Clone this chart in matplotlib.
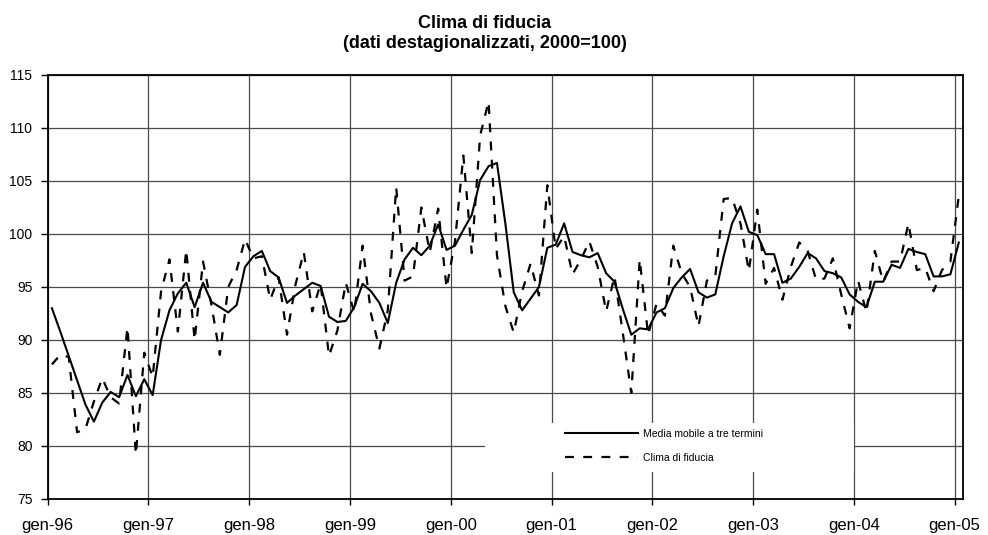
import matplotlib
matplotlib.use('Agg')
import matplotlib.pyplot as plt
from matplotlib.patches import Rectangle
import numpy as np

# etichette di gennaio sull'asse x
anni = ['gen-96', 'gen-97', 'gen-98', 'gen-99', 'gen-00',
        'gen-01', 'gen-02', 'gen-03', 'gen-04', 'gen-05']

# clima di fiducia, mensile gen-96 .. gen-05
clima = [87.7, 88.6, 88.4, 81.3, 81.6, 84.2, 86.4, 84.6, 84.0, 91.2, 79.2, 88.8,
         86.5, 94.6, 97.6, 90.8, 98.5, 90.0, 97.4, 93.3, 88.6, 95.0, 96.6, 99.5,
         97.7, 97.9, 93.8, 95.9, 90.5, 95.2, 98.3, 92.7, 95.3, 88.5, 90.9, 95.4,
         92.6, 98.9, 92.5, 89.2, 92.8, 104.4, 95.6, 96.0, 102.5, 98.3, 102.4, 94.9,
         99.3, 107.4, 98.2, 109.3, 112.5, 98.0, 93.2, 90.7, 94.6, 97.2, 94.2, 104.6,
         98.6, 99.8, 96.2, 97.6, 99.3, 96.9, 92.7, 96.0, 90.6, 85.0, 97.6, 90.5,
         93.4, 92.3, 98.9, 96.3, 95.0, 91.3, 95.6, 96.0, 103.3, 103.4, 101.0, 96.5,
         102.3, 95.3, 96.8, 93.8, 96.9, 99.2, 98.4, 95.7, 95.8, 97.7, 94.3, 91.1,
         95.6, 92.6, 98.4, 95.5, 97.4, 97.4, 101.0, 96.6, 96.8, 94.6, 96.6, 97.4,
         103.6]

# media mobile a tre termini
media = [93.0, 90.8, 88.5, 86.2, 83.9, 82.3, 84.1, 85.1, 84.6, 86.7, 84.7, 86.3,
         84.8, 90.0, 92.8, 94.4, 95.4, 93.1, 95.4, 93.6, 93.1, 92.6, 93.3, 96.9,
         97.9, 98.4, 96.5, 95.9, 93.5, 94.2, 94.8, 95.4, 95.1, 92.2, 91.7, 91.8,
         93.1, 95.3, 94.6, 93.5, 91.6, 95.4, 97.6, 98.7, 98.0, 98.9, 100.9, 98.5,
         98.9, 100.4, 101.8, 105.1, 106.4, 106.7, 101.0, 94.5, 92.8, 93.9, 95.0, 98.7,
         99.0, 101.0, 98.3, 98.0, 97.8, 98.2, 96.3, 95.5, 92.9, 90.5, 91.1, 91.0,
         92.6, 93.0, 94.9, 95.9, 96.7, 94.5, 94.0, 94.3, 97.9, 101.0, 102.6, 100.2,
         99.9, 98.1, 98.1, 95.4, 95.8, 96.9, 98.2, 97.7, 96.5, 96.3, 95.9, 94.3,
         93.6, 93.1, 95.5, 95.5, 97.1, 96.8, 98.6, 98.3, 98.1, 96.0, 96.0, 96.2,
         99.2]

W, H = 988, 535
fig = plt.figure(figsize=(W / 100, H / 100), dpi=100)
ax = fig.add_axes([47.7 / W, 1 - 499 / H, (963 - 47.7) / W, (499 - 75) / H])

x = np.arange(len(clima)) + 0.5
l1, = ax.plot(x, media, color='black', lw=1.5, zorder=3)
l2, = ax.plot(x, clima, color='black', lw=1.6, dashes=(4, 4.2), zorder=3)

ax.set_xlim(0, len(clima))
ax.set_ylim(75, 115)
ax.set_yticks(np.arange(75, 116, 5))
ax.set_xticks(np.arange(0, len(clima), 12))
ax.set_xticklabels(anni)

ax.set_axisbelow(True)
ax.grid(True, color='#4a4a4a', lw=0.9)
for s in ax.spines.values():
    s.set_color('black')
    s.set_linewidth(1.3)

ax.tick_params(axis='y', direction='out', length=5, width=1, pad=6, labelsize=10)
ax.tick_params(axis='x', direction='out', length=4.5, width=1, pad=9, labelsize=12)
for t in ax.get_xticklabels() + ax.get_yticklabels():
    t.set_family('Liberation Sans')

fig.text(485 / W, 1 - 33.5 / H, 'Clima di fiducia\n(dati destagionalizzati, 2000=100)',
         ha='center', va='center', fontsize=13, fontweight='bold',
         family='Liberation Sans', linespacing=1.25)

# riquadro bianco della legenda sopra la griglia
fig.add_artist(Rectangle((485 / W, 1 - 472 / H), 369 / W, 49 / H,
                         transform=fig.transFigure, facecolor='white',
                         edgecolor='none', zorder=1))
leg = fig.legend([l1, l2], ['Media mobile a tre termini', 'Clima di fiducia'],
                 loc='upper left', bbox_to_anchor=(565 / W, 1 - 429 / H),
                 frameon=False, borderpad=0, borderaxespad=0,
                 handlelength=7.0, handletextpad=0.45, labelspacing=1.3,
                 prop={'family': 'Liberation Sans', 'size': 7.5})
leg.set_zorder(2)

fig.savefig('out.png', dpi=100)
